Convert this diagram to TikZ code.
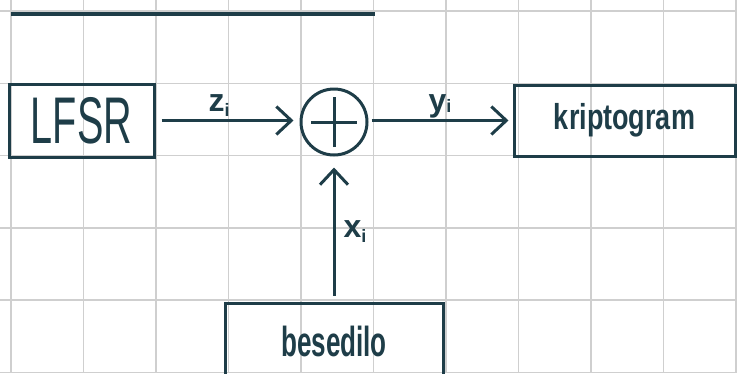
\documentclass[tikz,border=0pt]{standalone}
\usepackage{fontspec}
\usepackage{graphicx}
\setmainfont{Liberation Sans}
\usetikzlibrary{arrows.meta}
\definecolor{ink}{HTML}{1E3D48}
\definecolor{gridc}{HTML}{CFCFCF}
\tikzset{
  ink/.style={draw=ink, line width=3pt},
  blockbox/.style={ink, rectangle, inner sep=0pt, text=ink},
  arr/.style={ink, -{Straight Barb[length=15pt,width=28pt,line width=3pt]}},
  lbl/.style={text=ink, inner sep=0pt, font=\bfseries\fontsize{32}{34}\selectfont}
}
\begin{document}
\begin{tikzpicture}[x=1pt,y=-1pt]
\useasboundingbox (0,0) rectangle (737,373);
\clip (0,0) rectangle (737,373);
% grid
\foreach \i in {0,...,10} {
  \draw[gridc, line width=1.5pt] ({11+72.5*\i},0) -- ({11+72.5*\i},373);
}
\foreach \j in {0,...,5} {
  \draw[gridc, line width=1.5pt] (0,{11+72.3*\j}) -- (737,{11+72.3*\j});
}
% top line
\coordinate (tl) at (11,14);
\coordinate (tr) at (375,14);
\draw[ink, line width=4pt] (tl) -- (tr);
% blocks
\node[blockbox, minimum width=145pt, minimum height=73pt] (lfsr) at (81.5,120.5)
  {\raisebox{-2pt}{\fontsize{66}{70}\selectfont\scalebox{0.6}[1]{LFSR}}};
\node[blockbox, minimum width=221pt, minimum height=71pt] (kript) at (624.5,120.5)
  {\raisebox{-4pt}{\bfseries\fontsize{36}{40}\selectfont\scalebox{0.75}[1]{kriptogram}}};
\node[blockbox, minimum width=218pt, minimum height=84pt] (bes) at (334,345)
  {\raisebox{8pt}{\bfseries\fontsize{42}{46}\selectfont\scalebox{0.62}[1]{besedilo}}};
% xor
\node[ink, circle, minimum size=66pt, inner sep=0pt] (xor) at (334,122) {};
\draw[ink] ([xshift=-23pt]xor.center) -- ([xshift=23pt]xor.center);
\draw[ink] ([yshift=-25pt]xor.center) -- ([yshift=25pt]xor.center);
% connectors
\draw[arr, shorten <=6pt, shorten >=6pt] (lfsr.east) -- (lfsr.east -| xor.west);
\draw[arr, shorten <=3pt, shorten >=4pt] (xor.east |- kript.west) -- (kript.west);
\draw[arr, shorten <=6pt, shorten >=11pt] (bes.north) -- (xor.south);
% labels
\node[lbl] (zi) at (219,106) {z\raisebox{-5pt}{\fontsize{18}{20}\selectfont i}};
\node[lbl] (yi) at (440,106) {y\raisebox{-1pt}{\fontsize{18}{20}\selectfont i}};
\node[lbl] (xi) at (355,232) {x\raisebox{-5pt}{\fontsize{18}{20}\selectfont i}};
\end{tikzpicture}
\end{document}
